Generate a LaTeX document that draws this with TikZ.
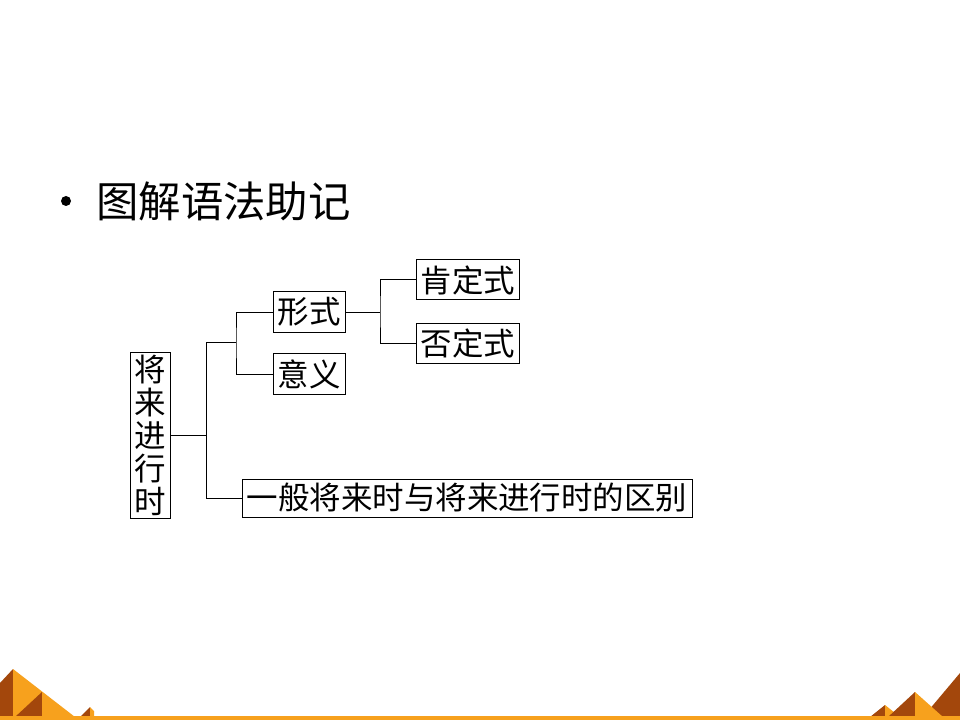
\documentclass[tikz,border=0pt]{standalone}
\usepackage{fontspec}
\setmainfont{Noto Sans CJK SC}
\definecolor{pyrorange}{HTML}{F7A11D}
\definecolor{pyrdark}{HTML}{A3470C}
\begin{document}
\begin{tikzpicture}[x=0.75pt,y=-0.75pt,
  box/.style={draw,line width=0.75pt,inner sep=0pt,font=\fontsize{23.6pt}{24.75pt}\selectfont},
  link/.style={line width=0.75pt}]
\useasboundingbox (0,0) rectangle (960,720);
\fill[white] (0,0) rectangle (960,720);
% title
\node[circle,fill=black,inner sep=0pt,minimum size=7.5pt] (bullet) at (66,201) {};
\node[anchor=west,inner sep=0pt,font=\fontsize{31.8pt}{36pt}\selectfont] (title) at (96,201) {图解语法助记};
% boxes
\node[box,minimum width=30pt,minimum height=124.5pt,align=center] (root) at (150,435) {将\\来\\进\\行\\时};
\node[box,minimum width=54pt,minimum height=30.5pt] (form) at (309,312) {形式};
\node[box,minimum width=54pt,minimum height=30.5pt] (mean) at (309,374) {意义};
\node[box,minimum width=77pt,minimum height=30pt] (pos) at (468,280) {肯定式};
\node[box,minimum width=77pt,minimum height=30pt] (neg) at (468,343) {否定式};
\node[box,minimum width=337.5pt,minimum height=28.5pt] (diff) at (467,498) {一般将来时与将来进行时的区别};
% connectors
\coordinate (ja) at (206,342.5);
\coordinate (jb) at (236,342.5);
\coordinate (jc) at (380,312);
\draw[link] (root.east) -- (ja |- root.east);
\draw[link] (jb) -- (ja) |- (diff.west);
\draw[link] (form.west) -| (jb) |- (mean.west);
\draw[link] (form.east) -- (jc);
\draw[link] (pos.west) -| (jc) |- (neg.west);
% bottom decoration
\fill[pyrdark] (0,683) -- (13,669) -- (13,717) -- (0,717) -- cycle;
\fill[pyrorange] (13,669) -- (75,717) -- (13,717) -- cycle;
\fill[pyrdark] (15,717) -- (42,692) -- (42,717) -- cycle;
\fill[pyrorange] (42,692) -- (72,717) -- (42,717) -- cycle;
\fill[pyrdark] (80,717) -- (90,707) -- (90,717) -- cycle;
\fill[pyrorange] (90,707) -- (94,711) -- (94,717) -- (90,717) -- cycle;
\fill[pyrdark] (923,717) -- (960,673) -- (960,717) -- cycle;
\fill[pyrdark] (870,717) -- (885,705) -- (885,717) -- cycle;
\fill[pyrorange] (885,705) -- (900,717) -- (885,717) -- cycle;
\fill[pyrdark] (888,717) -- (915,692) -- (915,717) -- cycle;
\fill[pyrorange] (915,692) -- (943,717) -- (915,717) -- cycle;
\fill[pyrorange] (0,716) rectangle (960,720);
\end{tikzpicture}
\end{document}
